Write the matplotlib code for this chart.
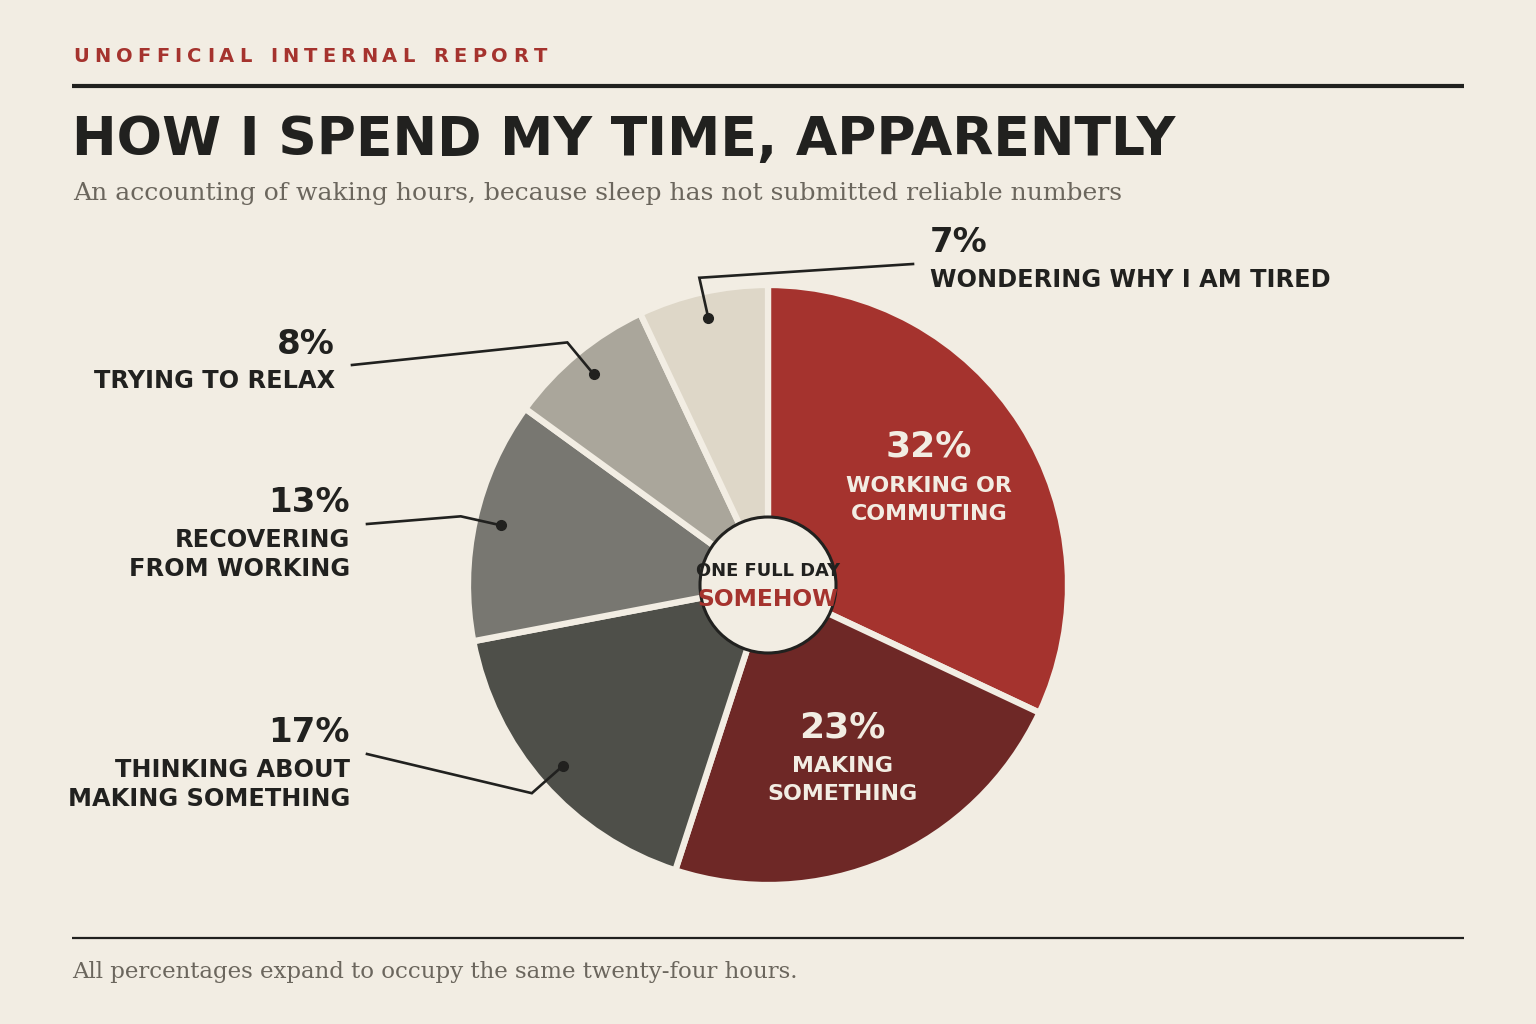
import numpy as np
import matplotlib.pyplot as plt
from matplotlib.patches import Circle

# colours
BG = '#f2ede3'
INK = '#21211f'
RED = '#a5332e'
SOFT = '#f2ede3'
GREY_TXT = '#6b665d'

# data
shares = [32, 23, 17, 13, 8, 7]
pct_labels = ['32%', '23%', '17%', '13%', '8%', '7%']
names = ['WORKING OR\nCOMMUTING', 'MAKING\nSOMETHING',
         'THINKING ABOUT\nMAKING SOMETHING', 'RECOVERING\nFROM WORKING',
         'TRYING TO RELAX', 'WONDERING WHY I AM TIRED']
colors = ['#a5332e', '#6e2826', '#4e4f49', '#787771', '#aaa69b', '#ded7c8']

# where the outside labels sit (pixel coords, y down), None = label inside the slice
anchors = [None, None, (367, 754), (367, 524), (352, 365), (913, 264)]

W, H = 1536, 1024
def Y(p):
    return H - p

fig = plt.figure(figsize=(15.36, 10.24), dpi=100, facecolor=BG)
ax = fig.add_axes([0, 0, 1, 1])
ax.set_facecolor(BG)

cx, cy = 768, Y(585)
R = 300          # edge line eats ~3px, visible radius ~297
Rv = 297

wedges, _ = ax.pie(shares, colors=colors, startangle=90, counterclock=False,
                   radius=R, center=(cx, cy),
                   wedgeprops=dict(edgecolor=BG, linewidth=4.5))

ax.set_xlim(0, W)
ax.set_ylim(0, H)
ax.set_aspect('equal')
ax.axis('off')

for i, w in enumerate(wedges):
    mid = np.deg2rad((w.theta1 + w.theta2) / 2)
    ux, uy = np.cos(mid), np.sin(mid)
    lines = names[i].split('\n')
    if anchors[i] is None:
        bx, by = cx + 0.65 * Rv * ux - 2, cy + 0.65 * Rv * uy
        ax.text(bx, by + 35, pct_labels[i], color=SOFT, fontsize=26,
                fontweight='bold', ha='center', va='center', zorder=6)
        for k, ln in enumerate(lines):
            ax.text(bx, by - 4 - 28 * k, ln, color=SOFT, fontsize=15.9,
                    fontweight='bold', ha='center', va='center', zorder=6)
    else:
        px, py = cx + 0.92 * Rv * ux, cy + 0.92 * Rv * uy
        kx, ky = cx + 1.06 * Rv * ux, cy + 1.06 * Rv * uy
        ex, ey = anchors[i][0], Y(anchors[i][1])
        ax.plot([px, kx, ex], [py, ky, ey], color=INK, lw=1.9, zorder=6,
                solid_joinstyle='miter')
        ax.plot(px, py, 'o', color=INK, ms=7, zorder=7)
        if ex < cx:
            tx, ha = ex - 17, 'right'
        else:
            tx, ha = ex + 17, 'left'
        ax.text(tx, ey + 21, pct_labels[i], color=INK, fontsize=24.5,
                fontweight='bold', ha=ha, va='center')
        for k, ln in enumerate(lines):
            ax.text(tx, ey - 16 - 29 * k, ln, color=INK, fontsize=17.3,
                    fontweight='bold', ha=ha, va='center')

# centre hub
ax.add_patch(Circle((cx, cy), 68, facecolor=BG, edgecolor=INK, lw=2.2, zorder=8))
ax.text(cx, Y(571), 'ONE FULL DAY', color=INK, fontsize=12.9, fontweight='bold',
        ha='center', va='center', zorder=9)
ax.text(cx, Y(600), 'SOMEHOW', color=RED, fontsize=16.8, fontweight='bold',
        ha='center', va='center', zorder=9)

# header kicker, letter-spaced word by word
renderer = fig.canvas.get_renderer()
kicker_words = [('UNOFFICIAL', 73, 252), ('INTERNAL', 270, 415), ('REPORT', 433, 547)]
for word, x0, x1 in kicker_words:
    glyphs = [ax.text(0, Y(62), ch, color=RED, fontsize=14, fontweight='bold',
                      ha='left', va='baseline') for ch in word]
    widths = [g.get_window_extent(renderer).width for g in glyphs]
    track = (x1 - x0 - sum(widths)) / (len(word) - 1)
    x = x0
    for g, wd in zip(glyphs, widths):
        g.set_x(x)
        x += wd + track

ax.plot([72, 1464], [Y(86), Y(86)], color=INK, lw=3, solid_capstyle='butt')
ax.text(72, Y(155), 'HOW I SPEND MY TIME, APPARENTLY', color=INK, fontsize=38.5,
        fontweight='bold', ha='left', va='baseline')
ax.text(73, Y(200), 'An accounting of waking hours, because sleep has not submitted reliable numbers',
        color=GREY_TXT, fontsize=18, family='DejaVu Serif',
        ha='left', va='baseline')

# footer
ax.plot([72, 1464], [Y(938), Y(938)], color=INK, lw=1.6, solid_capstyle='butt')
ax.text(72, Y(978), 'All percentages expand to occupy the same twenty-four hours.',
        color=GREY_TXT, fontsize=16.5, family='DejaVu Serif',
        ha='left', va='baseline')

fig.savefig('out.png', dpi=100, facecolor=BG)
